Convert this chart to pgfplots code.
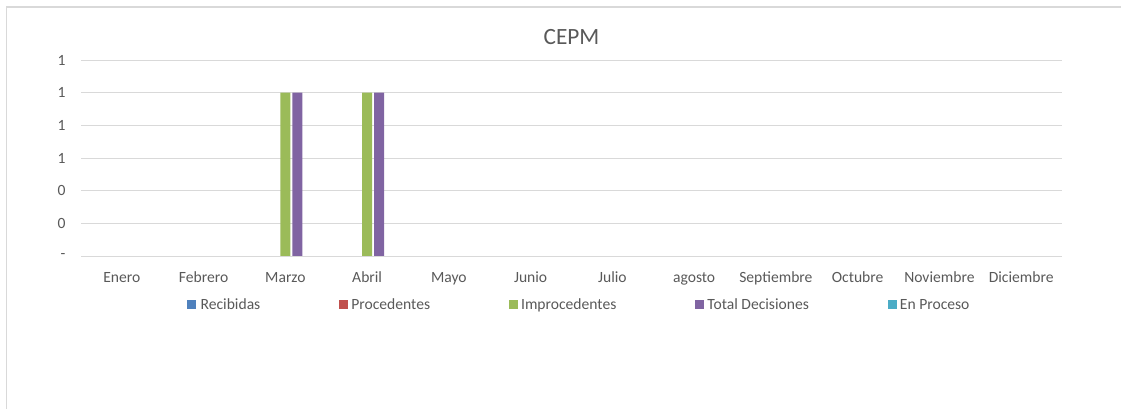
\documentclass[border=0pt]{standalone}
\usepackage{pgfplots}
\pgfplotsset{compat=1.18}
\usepackage{fontspec}
\setmainfont{Carlito}

\definecolor{recib}{HTML}{4F81BD}
\definecolor{proce}{HTML}{C0504D}
\definecolor{impro}{HTML}{9BBB59}
\definecolor{total}{HTML}{8064A2}
\definecolor{enpro}{HTML}{4BACC6}
\definecolor{txt}{HTML}{595959}
\definecolor{gridc}{HTML}{D9D9D9}

\pgfplotsset{
  sq/.style={legend image code/.code={\fill[##1] (0pt,-4pt) rectangle (9pt,4.5pt);}},
}

\begin{document}
\begin{tikzpicture}
\useasboundingbox (0,0) rectangle (1121pt,409pt);
\draw[gridc, line width=1.5pt] (6.5pt,0) -- (6.5pt,402pt) -- (1121pt,402pt);
\begin{axis}[
  at={(81pt,153pt)}, anchor=south west,
  scale only axis, width=981pt, height=196pt,
  xmin=-0.5, xmax=11.5, ymin=0, ymax=1.2,
  ybar, bar width=0.122,
  axis line style={draw=none},
  major tick style={draw=none},
  ymajorgrids, grid style={gridc, line width=0.9pt},
  ytick={0,0.2,0.4,0.6,0.8,1.0,1.2},
  yticklabels={-\hspace{7pt},0,0,1,1,1,1},
  xtick={0,...,11},
  xticklabels={Enero,Febrero,Marzo,Abril,Mayo,Junio,Julio,agosto,Septiembre,Octubre,Noviembre,Diciembre},
  /pgf/number format/assume math mode=true,
  ticklabel style={font=\fontsize{15.6}{18}\selectfont, text=txt},
  xticklabel style={anchor=base, yshift=-22pt},
  yticklabel style={xshift=-12pt},
  title={CEPM},
  title style={font=\fontsize{23.3}{27}\selectfont, text=txt, anchor=base, at={(0.5,1)}, yshift=9pt},
  legend columns=-1,
  legend style={at={(0.1075,-0.25)}, anchor=west, draw=none, fill=none,
    font=\fontsize{15.6}{18}\selectfont, text=txt, inner sep=0pt,
    /tikz/every odd column/.append style={column sep=1pt},
    /tikz/every even column/.append style={column sep=77pt}},
]
% series that are zero in every month: legend entries only
\addlegendimage{sq, fill=recib, draw=none}
\addlegendimage{sq, fill=proce, draw=none}
\addplot[sq, fill=impro, draw=none, bar shift=0] coordinates {(2,1)(3,1)};
\addplot[sq, fill=total, draw=none, bar shift=0.147] coordinates {(2,1)(3,1)};
\addlegendimage{sq, fill=enpro, draw=none}
\legend{\hspace{2pt}Recibidas,Procedentes,Improcedentes,Total Decisiones,En Proceso}
\end{axis}
\end{tikzpicture}
\end{document}
